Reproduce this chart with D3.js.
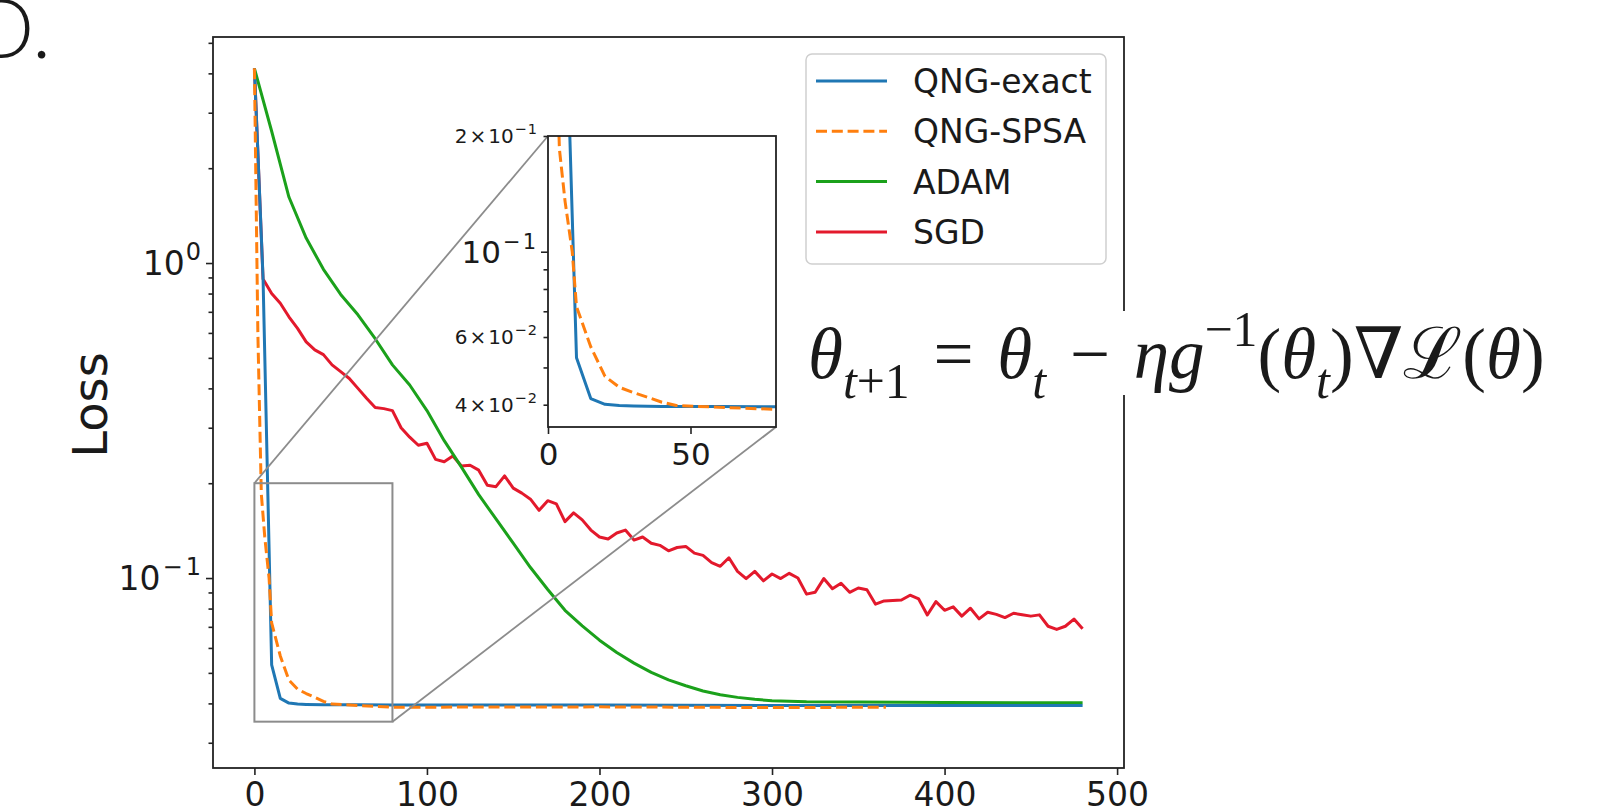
<!DOCTYPE html>
<html>
<head>
<meta charset="utf-8">
<script src="https://cdn.jsdelivr.net/npm/d3@7"></script>
<style>
body{margin:0;background:#fff}
text{font-family:"DejaVu Sans",sans-serif;fill:#1a1a1a}
</style>
</head>
<body>
<svg id="fig" width="1615" height="809"></svg>
<script>
// ---- data ----
var seriesNames = ['QNG-exact','QNG-SPSA','ADAM','SGD'];
var seriesColors = ['#1f77b4','#ff7f0e','#1ba11b','#e3192c'];

var exactIter = [0,5,10,15,20,25,30,40,60,80,120,200,300,400,480];
var exactLoss = [4.15,0.9,0.053,0.0415,0.0401,0.0398,0.0397,0.0396,0.0396,0.0395,0.0395,0.0395,0.0394,0.0394,0.0394];

var spsaIter = [0,2,4,6,8.5,10,15,20,25,30,35,40,45,60,80,200,300,366];
var spsaLoss = [4.15,0.6,0.185,0.135,0.1,0.072,0.0566,0.0474,0.0444,0.043,0.0418,0.0406,0.0398,0.0394,0.0389,0.039,0.0388,0.0389];

var adamIter = [0,10,20,30,40,50,60,70,80,90,100,110,120,130,140,150,160,170,180,190,200,210,220,230,240,250,260,270,280,290,300,320,350,400,450,480];
var adamLoss = [4.15,2.62,1.62,1.2,0.955,0.795,0.685,0.575,0.475,0.41,0.34,0.273,0.225,0.184,0.154,0.129,0.108,0.092,0.079,0.0705,0.0635,0.058,0.0537,0.0502,0.0475,0.0455,0.0438,0.0426,0.0418,0.0412,0.0408,0.0405,0.0404,0.0403,0.0402,0.0402];

var sgdStep = 5;
var sgdLoss = [4.15,0.89,0.80,0.745,0.675,0.62,0.562,0.53,0.512,0.475,
  0.452,0.43,0.40,0.372,0.348,0.345,0.34,0.30,0.28,0.264,
  0.268,0.238,0.234,0.244,0.227,0.228,0.22,0.197,0.195,0.211,
  0.193,0.186,0.178,0.164,0.176,0.172,0.151,0.161,0.153,0.142,
  0.135,0.133,0.139,0.142,0.132,0.135,0.129,0.127,0.122,0.125,
  0.126,0.12,0.118,0.112,0.109,0.116,0.105,0.0996,0.105,0.098,
  0.103,0.0996,0.1035,0.1,0.0889,0.0901,0.0996,0.0925,0.0963,0.0901,
  0.093,0.0918,0.0826,0.0846,0.0849,0.0852,0.0882,0.0858,0.0763,0.0842,
  0.079,0.081,0.0757,0.0802,0.0742,0.0779,0.0767,0.0749,0.0773,0.0765,
  0.0757,0.0764,0.0703,0.0687,0.0703,0.0741,0.069];

var xTicks = [0,100,200,300,400,500];
var yMajor = [0.1,1];
var yMajorLabel = [['10','\u22121'],['10','0']];
var yMinor = [0.03,0.04,0.05,0.06,0.07,0.08,0.09,0.2,0.3,0.4,0.5,0.6,0.7,0.8,0.9,2,3,4,5];

var zoomX = [0,80];
var zoomY = [0.035,0.2];
var insetXTicks = [0,50];
var insetYMajor = [0.1];
var insetYMinor = [0.04,0.05,0.06,0.07,0.08,0.09,0.2];
var insetMinorLabel = {0.04:['4','\u22122'],0.06:['6','\u22122'],0.2:['2','\u22121']};

// ---- figure ----
var svg = d3.select('#fig');
svg.append('rect').attr('width',1615).attr('height',809).attr('fill','#fff');

var L=213,R=1124,T=37,B=768;
var x = d3.scaleLinear().domain([-24,504]).range([L,R]);
var y = d3.scaleLog().domain([Math.pow(10,-1.603),Math.pow(10,0.7175)]).range([B,T]);

var ink = '#222';

// panel letter
svg.append('text').attr('x',-28).attr('y',58).attr('font-size',82)
  .style('font-family','Lato,"Open Sans",sans-serif').style('font-weight',300).text('D.');

// y label
svg.append('text').attr('transform','translate(107,405) rotate(-90)')
  .attr('text-anchor','middle').attr('font-size',48).text('Loss');

var defs = svg.append('defs');
defs.append('clipPath').attr('id','mainclip').append('rect')
  .attr('x',L).attr('y',T).attr('width',R-L).attr('height',B-T);

// lines
var line = d3.line().x(function(d){return x(d[0]);}).y(function(d){return y(d[1]);});
var series = [
  d3.zip(exactIter,exactLoss),
  d3.zip(spsaIter,spsaLoss),
  d3.zip(adamIter,adamLoss),
  sgdLoss.map(function(v,i){return [i*sgdStep,v];})
];
var drawOrder = [3,2,0,1];
var gl = svg.append('g').attr('clip-path','url(#mainclip)');
drawOrder.forEach(function(k){
  gl.append('path').datum(series[k]).attr('d',line).attr('fill','none')
    .attr('stroke',seriesColors[k]).attr('stroke-width',3)
    .attr('stroke-linejoin','round')
    .attr('stroke-dasharray',k==1?'11,4.8':null);
});

// axes
var gx = svg.append('g').attr('transform','translate(0,'+B+')')
  .call(d3.axisBottom(x).tickValues(xTicks).tickSize(7).tickPadding(8).tickFormat(d3.format('d')));
gx.selectAll('text').attr('font-size',33).style('font-family','"DejaVu Sans"').attr('fill','#1a1a1a');

var gyMin = svg.append('g').attr('transform','translate('+L+',0)')
  .call(d3.axisLeft(y).tickValues(yMinor).tickSize(4.5).tickFormat(function(){return '';}));
var gy = svg.append('g').attr('transform','translate('+L+',0)')
  .call(d3.axisLeft(y).tickValues(yMajor).tickSize(7).tickFormat(function(){return '';}));
[gx,gy,gyMin].forEach(function(g){
  g.select('.domain').remove();
  g.selectAll('line').attr('stroke',ink).attr('stroke-width',1.6);
});
yMajor.forEach(function(v,i){
  var t = svg.append('text').attr('x',201).attr('y',y(v)+12).attr('text-anchor','end').attr('font-size',33);
  t.append('tspan').text(yMajorLabel[i][0]);
  var sup = yMajorLabel[i][1];
  if(sup.length>1){
    t.append('tspan').attr('dx',2).attr('dy',-15).attr('font-size',24).text(sup[0]);
    t.append('tspan').attr('dx',3).attr('font-size',24).text(sup.slice(1));
  } else {
    t.append('tspan').attr('dx',1).attr('dy',-15).attr('font-size',24).text(sup);
  }
});
svg.append('rect').attr('x',L).attr('y',T).attr('width',R-L).attr('height',B-T)
  .attr('fill','none').attr('stroke',ink).attr('stroke-width',1.8);

// zoom indicator
var gray = '#8c8c8c';
svg.append('rect').attr('x',x(zoomX[0])).attr('y',y(zoomY[1]))
  .attr('width',x(zoomX[1])-x(zoomX[0])).attr('height',y(zoomY[0])-y(zoomY[1]))
  .attr('fill','none').attr('stroke',gray).attr('stroke-width',2);

// inset
var iL=548,iR=776,iT=136,iB=427;
var xi = d3.scaleLinear().domain(zoomX).range([iL,iR]);
var yi = d3.scaleLog().domain(zoomY).range([iB,iT]);
svg.append('line').attr('x1',x(zoomX[0])).attr('y1',y(zoomY[1])).attr('x2',iL).attr('y2',iT)
  .attr('stroke',gray).attr('stroke-width',1.8);
svg.append('line').attr('x1',x(zoomX[1])).attr('y1',y(zoomY[0])).attr('x2',iR).attr('y2',iB)
  .attr('stroke',gray).attr('stroke-width',1.8);

svg.append('rect').attr('x',iL).attr('y',iT).attr('width',iR-iL).attr('height',iB-iT).attr('fill','#fff');
defs.append('clipPath').attr('id','insetclip').append('rect')
  .attr('x',iL).attr('y',iT).attr('width',iR-iL).attr('height',iB-iT);
var linei = d3.line().x(function(d){return xi(d[0]);}).y(function(d){return yi(d[1]);});
var gi = svg.append('g').attr('clip-path','url(#insetclip)');
[0,1].forEach(function(k){
  gi.append('path').datum(series[k]).attr('d',linei).attr('fill','none')
    .attr('stroke',seriesColors[k]).attr('stroke-width',3).attr('stroke-linejoin','round')
    .attr('stroke-dasharray',k==1?'11,4.8':null);
});
var gix = svg.append('g').attr('transform','translate(0,'+iB+')')
  .call(d3.axisBottom(xi).tickValues(insetXTicks).tickSize(7).tickPadding(9).tickFormat(d3.format('d')));
gix.selectAll('text').attr('font-size',31).style('font-family','"DejaVu Sans"').attr('fill','#1a1a1a');
var giyMin = svg.append('g').attr('transform','translate('+iL+',0)')
  .call(d3.axisLeft(yi).tickValues(insetYMinor).tickSize(4.5).tickFormat(function(){return '';}));
var giy = svg.append('g').attr('transform','translate('+iL+',0)')
  .call(d3.axisLeft(yi).tickValues(insetYMajor).tickSize(7).tickFormat(function(){return '';}));
[gix,giy,giyMin].forEach(function(g){
  g.select('.domain').remove();
  g.selectAll('line').attr('stroke',ink).attr('stroke-width',1.6);
});
insetYMajor.forEach(function(v){
  var t = svg.append('text').attr('x',536).attr('y',yi(v)+11).attr('text-anchor','end').attr('font-size',31);
  t.append('tspan').text('10');
  t.append('tspan').attr('dx',2).attr('dy',-14).attr('font-size',21).text('\u2212');
  t.append('tspan').attr('dx',2).attr('font-size',21).text('1');
});
insetYMinor.forEach(function(v){
  var lab = insetMinorLabel[v];
  if(!lab) return;
  var t = svg.append('text').attr('x',537).attr('y',yi(v)+7).attr('text-anchor','end').attr('font-size',20);
  t.append('tspan').text(lab[0]);
  t.append('tspan').attr('dx',2).text('\u00d7');
  t.append('tspan').attr('dx',2).text('10');
  t.append('tspan').attr('dx',1).attr('dy',-9).attr('font-size',14.5).text(lab[1][0]);
  t.append('tspan').attr('dx',1).attr('font-size',14.5).text(lab[1].slice(1));
});
svg.append('rect').attr('x',iL).attr('y',iT).attr('width',iR-iL).attr('height',iB-iT)
  .attr('fill','none').attr('stroke',ink).attr('stroke-width',1.8);

// legend
var lg = svg.append('g');
lg.append('rect').attr('x',806).attr('y',54).attr('width',300).attr('height',210).attr('rx',6)
  .attr('fill','#fff').attr('fill-opacity',0.8).attr('stroke','#cfcfcf').attr('stroke-width',1.5);
seriesNames.forEach(function(n,i){
  var ry = 81 + i*50.3;
  lg.append('line').attr('x1',816).attr('x2',887).attr('y1',ry).attr('y2',ry)
    .attr('stroke',seriesColors[i]).attr('stroke-width',3)
    .attr('stroke-dasharray',i==1?'11,4.8':null);
  lg.append('text').attr('x',913).attr('y',ry+12).attr('font-size',33).text(n);
});

// update rule, on a white patch that hides part of the right spine
svg.append('rect').attr('x',800).attr('y',311).attr('width',760).attr('height',84).attr('fill','#fff');
var fg = svg.append('g');
var ft = fg.append('text').attr('x',0).attr('y',0).attr('font-size',66)
  .style('font-family','"Liberation Serif","DejaVu Serif",serif').attr('fill','#111');
var parts = [
  ['\u03b8',1,0],['t',1,1],['+1',0,1],['\u2004=\u2004',0,0],
  ['\u03b8',1,0],['t',1,1],['\u2004\u2212\u2004',0,0],['\u03b7g',1,0],['\u22121',0,2],
  ['(',0,0],['\u03b8',1,0],['t',1,1],[')',0,0],['\u2207',0,0],['\u2112',0,0],
  ['(',0,0],['\u03b8',1,0],[')',0,0]
];
var lvl = 0, F = 66;
var off = [0, 0.28*F, -0.45*F];
parts.forEach(function(p){
  var ts = ft.append('tspan').text(p[0]);
  if(p[1]) ts.attr('font-style','italic');
  if(p[2]) ts.attr('font-size',F*0.7);
  if(p[2]!=lvl){ ts.attr('dy',off[p[2]]-off[lvl]); lvl=p[2]; }
});
var bb = ft.node().getBBox();
var s = 737/bb.width;
fg.attr('transform','translate('+(808-bb.x*s)+',378) scale('+s+')');
</script>
</body>
</html>
